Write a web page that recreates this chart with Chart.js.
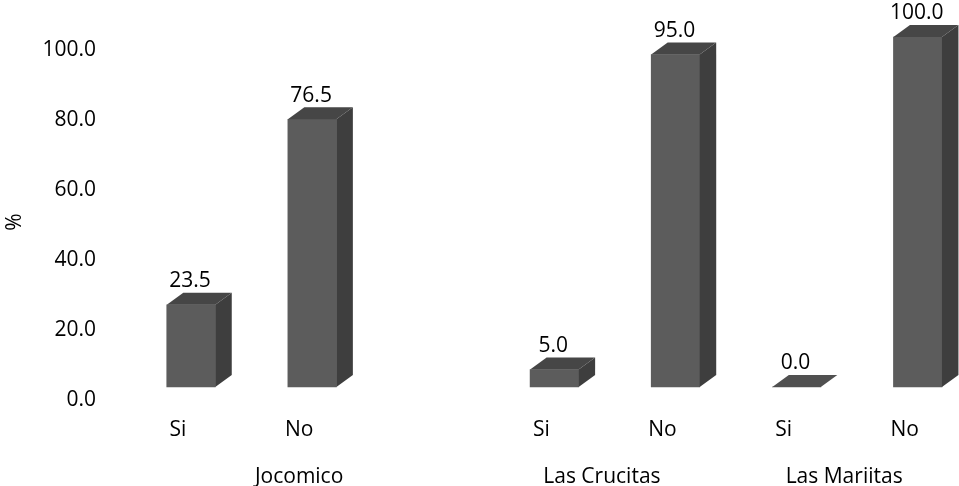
<!DOCTYPE html>
<html>
<head>
<meta charset="utf-8">
<title>Si / No</title>
<script src="https://cdn.jsdelivr.net/npm/chart.js@4"></script>
<style>
  html, body { margin: 0; padding: 0; background: #fff; }
  #wrap { width: 959px; height: 486px; }
</style>
</head>
<body>
<div id="wrap"><canvas id="barChart"></canvas></div>
<script>
// blank category keeps the gap after Jocomico
const categories = ['Si', 'No', '', 'Si', 'No', 'Si', 'No'];
const values = [23.5, 76.5, null, 5.0, 95.0, 0.0, 100.0];
const yTicks = [0, 20, 40, 60, 80, 100];
const groupNames = ['Jocomico', 'Las Crucitas', 'Las Mariitas'];
const groupCenters = [1, 3.5, 5.5];

const FONT = '"Open Sans"';
const FONT_SIZE = 21;
const depthX = 16.5, depthY = 12;

function poly(ctx, pts, color) {
  ctx.fillStyle = color;
  ctx.beginPath();
  pts.forEach(function(p, i) { i ? ctx.lineTo(p[0], p[1]) : ctx.moveTo(p[0], p[1]); });
  ctx.closePath();
  ctx.fill();
}

// tick padding also feeds the layout margins, which would shrink the plot
function noMargins(scale) {
  scale.paddingLeft = scale.paddingRight = scale.paddingTop = scale.paddingBottom = 0;
}

// top + side faces and value labels, placed from the bar elements
const bar3d = {
  id: 'bar3d',
  afterDatasetsDraw: function(chart) {
    const ctx = chart.ctx;
    ctx.save();
    chart.getDatasetMeta(0).data.forEach(function(bar, i) {
      if (values[i] === null) return;
      const l = bar.x - bar.width / 2, r = bar.x + bar.width / 2;
      const t = bar.y, b = bar.base;
      if (b - t > 0.5) {
        poly(ctx, [[r, t], [r + depthX, t - depthY], [r + depthX, b - depthY], [r, b]], '#3e3e3e');
      }
      poly(ctx, [[l, t], [r, t], [r + depthX, t - depthY], [l + depthX, t - depthY]], values[i] === 0 ? '#505050' : '#464646');
      ctx.fillStyle = '#000';
      ctx.font = FONT_SIZE + 'px ' + FONT;
      ctx.textAlign = 'center';
      ctx.textBaseline = 'middle';
      ctx.fillText(values[i].toFixed(1), bar.x - 1, t - 23.5);
    });
    // axis name sits level with the shifted tick labels
    ctx.translate(15, 222);
    ctx.rotate(-Math.PI / 2);
    ctx.fillStyle = '#000';
    ctx.font = FONT_SIZE + 'px ' + FONT;
    ctx.textAlign = 'center';
    ctx.textBaseline = 'middle';
    ctx.fillText('%', 0, 0);
    ctx.restore();
  }
};

const ctx = document.getElementById('barChart').getContext('2d');
const barChart = new Chart(ctx, {
  type: 'bar',
  data: {
    labels: categories,
    datasets: [{
      data: values,
      backgroundColor: '#5c5c5c',
      barThickness: 48.5,
      clip: false
    }]
  },
  options: {
    responsive: true,
    maintainAspectRatio: false,
    animation: false,
    layout: { padding: { top: 37, right: 41.3 } },
    plugins: {
      legend: { display: false },
      title: { display: false },
      tooltip: { enabled: false }
    },
    scales: {
      x: {
        offset: false,
        weight: 0,
        grid: { display: false, offset: false, drawTicks: false },
        border: { display: false },
        afterFit: function(scale) { scale.height = 60; noMargins(scale); },
        ticks: {
          color: '#000',
          padding: 30,
          labelOffset: -13,
          autoSkip: false,
          maxRotation: 0,
          font: { family: FONT, size: FONT_SIZE }
        }
      },
      groups: {
        type: 'linear',
        position: 'bottom',
        weight: 1,
        offset: false,
        min: 0,
        max: categories.length - 1,
        grid: { display: false, offset: false, drawTicks: false },
        border: { display: false },
        afterBuildTicks: function(scale) {
          scale.ticks = groupCenters.map(function(v) { return { value: v }; });
        },
        afterFit: function(scale) { scale.height = 39; noMargins(scale); },
        ticks: {
          color: '#000',
          padding: 17,
          labelOffset: -13,
          autoSkip: false,
          maxRotation: 0,
          font: { family: FONT, size: FONT_SIZE },
          callback: function(value, index) { return groupNames[index]; }
        }
      },
      y: {
        min: yTicks[0],
        max: yTicks[yTicks.length - 1],
        grid: { display: false, drawTicks: false },
        border: { display: false },
        afterFit: function(scale) { scale.width = 191; noMargins(scale); },
        afterBuildTicks: function(scale) {
          scale.ticks = yTicks.map(function(v) { return { value: v }; });
        },
        ticks: {
          color: '#000',
          padding: 95,
          labelOffset: 13,
          font: { family: FONT, size: FONT_SIZE },
          callback: function(value) { return value.toFixed(1); }
        }
      }
    }
  },
  plugins: [bar3d]
});
</script>
</body>
</html>
